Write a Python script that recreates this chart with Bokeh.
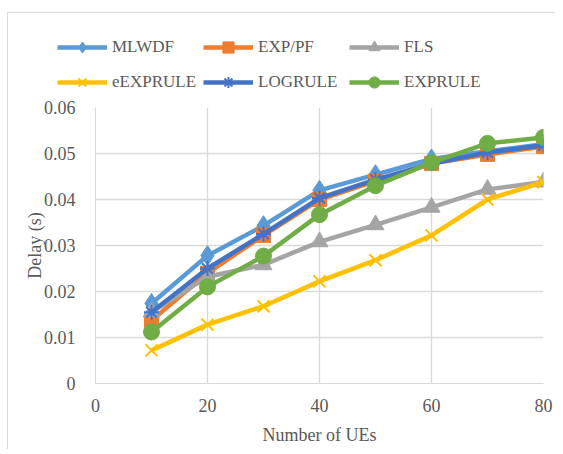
from bokeh.plotting import figure
from bokeh.layouts import column
from bokeh.models import Legend, LegendItem, FixedTicker, CustomJSTickFormatter, Range1d
from bokeh.embed import file_html
from bokeh.resources import INLINE

ues = [10, 20, 30, 40, 50, 60, 70, 80]
mlwdf = [0.0174, 0.0278, 0.0343, 0.0420, 0.0454, 0.0488, 0.0505, 0.0520]
exppf = [0.0137, 0.0240, 0.0322, 0.0400, 0.0440, 0.0478, 0.0498, 0.0515]
fls = [0.0155, 0.0232, 0.0258, 0.0308, 0.0345, 0.0383, 0.0422, 0.0438]
eexprule = [0.0072, 0.0128, 0.0168, 0.0222, 0.0268, 0.0322, 0.0400, 0.0438]
logrule = [0.0155, 0.0250, 0.0325, 0.0403, 0.0443, 0.0478, 0.0502, 0.0518]
exprule = [0.0112, 0.0210, 0.0277, 0.0367, 0.0430, 0.0480, 0.0522, 0.0535]

x_ticks = [0, 20, 40, 60, 80]
y_ticks = [0, 0.01, 0.02, 0.03, 0.04, 0.05, 0.06]

FONT = "Liberation Serif"
TXT = "#595959"
GRID = "#D9D9D9"

series = [
    ("MLWDF", mlwdf, "#5B9BD5", "diamond", 20),
    ("EXP/PF", exppf, "#ED7D31", "square", 14),
    ("FLS", fls, "#A5A5A5", "triangle", 17),
    ("eEXPRULE", eexprule, "#FFC000", "x", 17),
    ("LOGRULE", logrule, "#4472C4", "asterisk", 15),
    ("EXPRULE", exprule, "#70AD47", "circle", 16),
]
LW = 4.5

# ---- main plot ----
p = figure(width=547, height=352, output_backend="svg", toolbar_location=None,
           x_range=Range1d(0, 80), y_range=Range1d(0, 0.06),
           min_border_left=87, min_border_right=12, min_border_top=10, min_border_bottom=66)
p.frame_align = False
p.outline_line_color = None
p.xaxis.ticker = FixedTicker(ticks=x_ticks)
p.yaxis.ticker = FixedTicker(ticks=y_ticks)
p.yaxis.formatter = CustomJSTickFormatter(code="return tick == 0 ? '0' : tick.toFixed(2);")
for ax in (p.xaxis[0], p.yaxis[0]):
    ax.axis_line_color = GRID
    ax.major_tick_line_color = None
    ax.minor_tick_line_color = None
    ax.major_label_text_font = FONT
    ax.major_label_text_font_size = "18px"
    ax.major_label_text_color = TXT
    ax.axis_label_text_font = FONT
    ax.axis_label_text_font_size = "18px"
    ax.axis_label_text_color = TXT
    ax.axis_label_text_font_style = "normal"
p.xaxis.axis_label = "Number of UEs"
p.yaxis.axis_label = "Delay (s)"
p.xaxis.major_label_standoff = 9
p.xaxis.axis_label_standoff = 10
p.yaxis.major_label_standoff = 14
p.yaxis.axis_label_standoff = -4
p.xgrid.grid_line_color = GRID
p.ygrid.grid_line_color = GRID
p.xgrid.grid_line_width = 1.3
p.ygrid.grid_line_width = 1.3

def draw(fig, xs, ys, col, mk, sz, lw):
    lr = fig.line(xs, ys, line_color=col, line_width=lw)
    if mk in ("x", "asterisk"):
        sr = fig.scatter(xs, ys, marker=mk, size=sz, line_color=col, line_width=2)
    else:
        sr = fig.scatter(xs, ys, marker=mk, size=sz, fill_color=col, line_color=col)
    return lr, sr

for name, ys, col, mk, sz in series:
    draw(p, ues, ys, col, mk, sz, LW)

# ---- legend strip (its renderers sit outside its visible range) ----
lf = figure(width=547, height=84, output_backend="svg", toolbar_location=None,
            x_range=Range1d(-2, -1), y_range=Range1d(-2, -1),
            x_axis_location=None, y_axis_location=None,
            min_border_left=0, min_border_right=0, min_border_top=0, min_border_bottom=0)
lf.frame_align = False
lf.grid.visible = False
lf.outline_line_color = None
items = []
for name, ys, col, mk, sz in series:
    lr, sr = draw(lf, ues[:1], ys[:1], col, mk, sz, LW)
    items.append(LegendItem(label=name, renderers=[lr, sr]))
lg = Legend(items=items, location=(49, 1), orientation="horizontal", ncols=3,
            glyph_width=50, glyph_height=28, label_height=28, label_width=84, spacing=7,
            label_standoff=5, padding=0, margin=0,
            border_line_color=None, background_fill_alpha=0,
            label_text_font=FONT, label_text_font_size="17px",
            label_text_color=TXT)
lf.add_layout(lg, "center")

layout = column(lf, p, spacing=0)
layout.styles = {"margin": "12px 0px 0px 7px",
                 "border-top": "1px solid #D9D9D9", "border-left": "1px solid #D9D9D9"}

open("out.html", "w").write(file_html(layout, INLINE))
